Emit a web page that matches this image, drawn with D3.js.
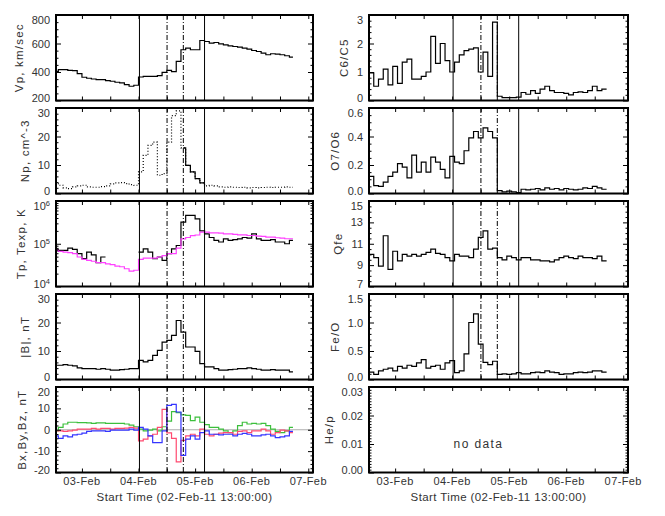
<!DOCTYPE html>
<html>
<head>
  <meta charset="utf-8">
  <title>ACE ICME summary</title>
  <script src="https://cdnjs.cloudflare.com/ajax/libs/d3/7.8.5/d3.min.js"></script>
  <style>
    body {
        margin: 0;
        background: #fff;
        font-family: "Liberation Sans", Arial, sans-serif;
    }
    svg { display: block; }
  </style>
</head>
<body>
<svg id="chart" width="665" height="516"></svg>
<script>
// ---------------------------------------------------------------
// Data (hours after 02-Feb-11 13:00:00)
var dayLabels = ["03-Feb", "04-Feb", "05-Feb", "06-Feb", "07-Feb"];
var dayHours = [11, 35, 59, 83, 107];
var halfDayHours = [11, 23, 35, 47, 59, 71, 83, 95, 107];
var eventSolid = [35.4, 63.0];
var eventDashDot = [47.1, 54.0];

// plasma / field: 2-hour bins starting at odd hours
var plasmaTimes = d3.range(51).map(function(i) { return Math.max(0, 2 * i - 1); });
var plasmaEnd = 100.5;
// ion composition: 2-hour bins starting at even hours
var ionTimes = d3.range(50).map(function(i) { return 2 * i; });
var ionEnd = 100;

var vp = [405,416,416,412,410,388,363,356,351,346,346,340,335,328,323,312,300,307,
          365,370,370,370,374,398,412,402,474,556,568,556,556,621,
          614,602,607,598,591,584,579,575,568,560,551,544,533,521,528,526,521,514,505];
var np = [3.8,2.9,2.0,1.7,2.3,2.7,2.9,2.3,2.2,2.2,2.4,2.7,3.4,3.7,3.8,3.5,3.1,2.9,
          7.6,13.4,16.9,18,6.4,7.0,18,27.3,29,16,9.9,7.6,5.2,3.7,
          2.7,2.9,2.7,2.3,2.2,2.3,2.2,2.1,2.2,2.0,2.1,2.0,2.1,2.2,2.1,2.2,2.2,2.3,2.2];
var tp = [7.4e4,7.0e4,7.0e4,7.9e4,7.4e4,5.9e4,4.5e4,6.4e4,5.5e4,3.6e4,4.9e4,
          null,null,null,null,null,null,null,
          6.4e4,7.6e4,6.4e4,4.5e4,4.9e4,4.1e4,5.9e4,7.6e4,9.1e4,3.2e5,4.6e5,4.6e5,3.8e5,2.0e5,
          1.7e5,1.4e5,1.2e5,1.1e5,1.3e5,1.2e5,1.25e5,1.3e5,1.4e5,1.35e5,1.7e5,1.3e5,1.2e5,
          1.2e5,1.25e5,1.1e5,1.1e5,1.0e5,1.2e5];
var texp = [7.0e4,6.6e4,6.4e4,6.2e4,5.9e4,4.9e4,4.3e4,4.1e4,3.9e4,3.6e4,3.6e4,3.4e4,
            3.25e4,3.0e4,2.9e4,2.6e4,2.3e4,2.4e4,
            4.3e4,4.6e4,4.6e4,4.6e4,4.9e4,5.3e4,5.9e4,5.9e4,7.9e4,1.3e5,1.4e5,1.55e5,1.6e5,1.87e5,
            1.87e5,1.8e5,1.8e5,1.77e5,1.71e5,1.71e5,1.65e5,1.62e5,1.62e5,1.56e5,1.56e5,1.51e5,
            1.48e5,1.43e5,1.43e5,1.38e5,1.36e5,1.31e5,1.31e5];
var bmag = [5.0,5.0,5.2,5.0,4.8,4.1,3.8,3.8,3.8,3.6,3.8,3.6,3.3,3.3,3.5,3.6,3.8,3.8,
            6.7,6.2,6.7,8.5,10.2,13.1,13.7,15.5,20.7,16.6,11.4,11.4,9.9,5.6,
            4.4,4.4,3.8,3.3,3.3,3.5,3.6,3.8,3.8,4.1,3.8,3.6,3.3,3.3,3.5,3.3,3.3,3.3,2.7];
var bx = [-0.5,-0.5,-0.8,-0.5,-0.2,0.3,0.3,0.3,0.6,0.3,0.6,0.6,0.3,0.6,0.6,0.8,1.1,0.8,
          -5.2,-4.4,-2.9,-2.1,1.1,9.5,-1.5,-4.0,-15,-5,-2.9,-2.1,-2.9,0.3,
          -2.1,-2.9,-2.1,-1.6,-1.3,-1.3,-2.1,-0.8,-0.5,-1.3,-0.5,-0.5,0.3,-0.5,-2.1,-1.3,-0.2,-0.5,-1.3];
var by = [-0.5,1.1,2.7,3.5,3.5,3.3,3.3,3.2,3.0,3.2,3.2,3.0,3.0,3.0,3.0,2.7,2.2,1.4,
          0.3,-0.5,-0.2,0.3,-0.5,1.4,4.0,8.5,8.0,7.0,6.7,4.3,5.9,3.5,
          2.4,1.1,1.1,0.3,-0.5,-1.3,-0.5,1.9,3.5,2.7,3.0,2.7,3.0,1.9,0.3,-0.8,-1.3,-0.5,1.1];
var bz = [-2.9,-4.0,-2.9,-3.3,-2.4,-2.1,-1.6,-0.8,-0.5,-0.5,-0.5,-0.8,-0.2,-0.2,-0.2,-0.2,0.3,-0.2,
          1.1,0.3,-2.9,-6.0,-6.0,-0.5,11.4,11.9,8.3,-12,-4.4,-2.9,-4.4,-1.3,
          -0.5,-2.1,-2.1,-2.4,-2.1,-2.1,-2.9,-2.1,-1.7,-2.1,-2.9,-2.9,-2.4,-2.1,-2.9,-3.7,-3.3,-2.9,-0.8];

var c6c5 = [0.97,0.5,0.75,1.1,0.55,1.2,0.6,1.35,1.45,0.75,0.75,0.85,1.0,2.25,1.3,2.0,1.4,1.0,1.35,1.6,
            1.75,1.8,1.85,1.0,1.7,0.85,2.75,0.15,0.1,0.1,0.1,0.12,0.28,0.22,0.35,0.25,0.4,0.5,0.35,0.28,
            0.28,0.25,0.2,0.28,0.3,0.28,0.35,0.5,0.35,0.4];
var o7o6 = [0.12,0.055,0.05,0.08,0.12,0.15,0.21,0.185,0.11,0.27,0.15,0.22,0.15,0.255,0.22,0.17,0.11,0.26,0.22,0.21,
            0.30,0.39,0.435,0.39,0.46,0.435,0.39,0.02,0.012,0.017,0.012,0.007,0.03,0.026,0.03,0.035,0.026,0.04,0.03,0.035,
            0.026,0.035,0.03,0.026,0.03,0.04,0.035,0.05,0.04,0.03];
var qfe = [10.0,9.7,8.9,11.75,8.6,10.3,9.4,10.0,9.85,10.0,9.85,10.0,10.2,10.5,10.1,10.0,9.7,9.4,10.0,9.85,
           9.85,9.7,10.5,11.6,12.2,10.5,10.6,9.7,9.5,9.85,9.7,9.5,9.7,9.7,9.5,9.5,9.4,9.4,9.3,9.5,
           9.7,9.85,9.7,9.6,9.85,9.7,9.7,9.6,9.85,9.4];
var feo = [0.13,0.09,0.15,0.18,0.2,0.15,0.23,0.2,0.25,0.23,0.29,0.35,0.2,0.23,0.25,0.18,0.29,0.33,0.12,0.15,
           0.45,1.0,1.15,0.62,0.3,0.26,0.32,0.09,0.1,0.09,0.1,0.12,0.1,0.1,0.12,0.13,0.12,0.15,0.13,0.12,
           0.09,0.1,0.1,0.12,0.13,0.12,0.13,0.15,0.15,0.13];

//----------------------------------------
// Panel setup
var svg = d3.select('#chart');
var xL = d3.scaleLinear().domain([0, 109]).range([56, 313]);
var xR = d3.scaleLinear().domain([0, 109]).range([369, 628]);
var textColor = '#333';

// plain ascii minus, like the original labels
function fmtFixed(n) {
    return function(d) { return d.toFixed(n); };
}

function minorTicks(d0, d1, step, majors) {
    return d3.range(d0, d1 + step / 2, step).filter(function(v) {
        return !majors.some(function(m) { return Math.abs(m - v) < step / 10; });
    });
}

var leftPanels = [
    { label: 'Vp, km/sec', domain: [200, 800], majors: [200, 400, 600, 800], minorStep: 50, fmt: fmtFixed(0),
      series: [{ t: plasmaTimes, v: vp, end: plasmaEnd, color: '#000' }] },
    { label: 'Np, cm^-3', domain: [0, 30], majors: [0, 10, 20, 30], minorStep: 2, fmt: fmtFixed(0),
      series: [{ t: plasmaTimes, v: np, end: plasmaEnd, color: '#000', dash: '1,2' },
               { t: plasmaTimes, v: np, end: plasmaEnd, color: '#000', clip: [54.0, 63.0] }] },
    { label: 'Tp, Texp, K', domain: [1e4, 1e6], log: true, majors: [1e4, 1e5, 1e6],
      series: [{ t: plasmaTimes, v: tp, end: plasmaEnd, color: '#000' },
               { t: plasmaTimes, v: texp, end: plasmaEnd, color: '#ff40ff' }] },
    { label: '|B|, nT', domain: [0, 30], majors: [0, 10, 20, 30], minorStep: 2, fmt: fmtFixed(0),
      series: [{ t: plasmaTimes, v: bmag, end: plasmaEnd, color: '#000' }] },
    { label: 'Bx,By,Bz, nT', domain: [-20, 20], majors: [-20, -10, 0, 10, 20], minorStep: 2, fmt: fmtFixed(0),
      zero: true,
      series: [{ t: plasmaTimes, v: by, end: plasmaEnd, color: '#3cbf3c' },
               { t: plasmaTimes, v: bx, end: plasmaEnd, color: '#ff4a70' },
               { t: plasmaTimes, v: bz, end: plasmaEnd, color: '#3535ff' }] }
];

var rightPanels = [
    { label: 'C6/C5', domain: [0, 3], majors: [0, 1, 2, 3], minorStep: 0.2, fmt: fmtFixed(0),
      series: [{ t: ionTimes, v: c6c5, end: ionEnd, color: '#000' }] },
    { label: 'O7/O6', domain: [0, 0.6], majors: [0, 0.2, 0.4, 0.6], minorStep: 0.05, fmt: fmtFixed(1),
      series: [{ t: ionTimes, v: o7o6, end: ionEnd, color: '#000' }] },
    { label: 'Qfe', domain: [7, 15], majors: [7, 9, 11, 13, 15], minorStep: 0.5, fmt: fmtFixed(0),
      series: [{ t: ionTimes, v: qfe, end: ionEnd, color: '#000' }] },
    { label: 'Fe/O', domain: [0, 1.5], majors: [0, 0.5, 1.0, 1.5], minorStep: 0.1, fmt: fmtFixed(1),
      series: [{ t: ionTimes, v: feo, end: ionEnd, color: '#000' }] },
    { label: 'He/p', domain: [0, 0.03], majors: [0, 0.01, 0.02, 0.03], minorStep: 0.001, fmt: fmtFixed(2),
      series: [], noData: true }
];

var defs = svg.append('defs');
var clipId = 0;

function drawPanel(cfg, col, row) {
    var x = col === 0 ? xL : xR;
    var x0 = x.range()[0], x1 = x.range()[1];
    var top = 15 + 93 * row, height = 85.5, bottom = top + height;
    var y = (cfg.log ? d3.scaleLog() : d3.scaleLinear()).domain(cfg.domain).range([bottom, top]);
    var g = svg.append('g');

    // zero line
    if (cfg.zero) {
        g.append('line')
            .attr('x1', x0).attr('x2', x1)
            .attr('y1', y(0)).attr('y2', y(0))
            .style('stroke', '#999').style('stroke-width', 0.8);
    }

    // data as step lines
    cfg.series.forEach(function(s) {
        var pts = [];
        s.t.forEach(function(t, i) {
            pts.push([t, s.v[i]]);
            var next = i + 1 < s.t.length ? s.t[i + 1] : s.end;
            if (s.v[i] != null && (i + 1 >= s.t.length || s.v[i + 1] == null)) {
                pts.push([next, s.v[i]]);
            }
        });
        var line = d3.line()
            .defined(function(d) { return d[1] != null; })
            .x(function(d) { return x(d[0]); })
            .y(function(d) { return y(d[1]); })
            .curve(d3.curveStepAfter);
        var path = g.append('path')
            .attr('d', line(pts))
            .style('fill', 'none')
            .style('stroke', s.color)
            .style('stroke-width', 1.2);
        if (s.dash) path.style('stroke-dasharray', s.dash);
        if (s.clip) {
            var id = 'clip' + (clipId++);
            defs.append('clipPath').attr('id', id).append('rect')
                .attr('x', x(s.clip[0])).attr('width', x(s.clip[1]) - x(s.clip[0]))
                .attr('y', top).attr('height', height);
            path.attr('clip-path', 'url(#' + id + ')');
        }
    });

    // event boundaries
    if (!cfg.noData) {
        eventSolid.forEach(function(h) {
            g.append('line').attr('x1', x(h)).attr('x2', x(h)).attr('y1', top).attr('y2', bottom)
                .style('stroke', '#000').style('stroke-width', 1);
        });
        eventDashDot.forEach(function(h) {
            g.append('line').attr('x1', x(h)).attr('x2', x(h)).attr('y1', top).attr('y2', bottom)
                .style('stroke', '#000').style('stroke-width', 1)
                .style('stroke-dasharray', '5,2,1,2');
        });
    } else {
        g.append('text')
            .attr('x', x(35.6)).attr('y', y(0.0087))
            .style('font-size', '12px').style('letter-spacing', '1.4px')
            .style('fill', textColor)
            .text('no data');
    }

    // x ticks (top and bottom, inward)
    [d3.axisBottom(x), d3.axisTop(x)].forEach(function(ax, k) {
        var a = g.append('g')
            .attr('transform', 'translate(0,' + (k === 0 ? bottom : top) + ')')
            .call(ax.tickValues(halfDayHours).tickSize(-4).tickFormat(''));
        a.select('.domain').remove();
        a.selectAll('line').style('stroke', '#000');
    });

    // y ticks
    var majors = cfg.majors;
    var minors = cfg.log
        ? [2,3,4,5,6,7,8,9].map(function(m) { return m * 1e4; })
              .concat([2,3,4,5,6,7,8,9].map(function(m) { return m * 1e5; }))
        : minorTicks(cfg.domain[0], cfg.domain[1], cfg.minorStep, majors);

    var yl = g.append('g').attr('transform', 'translate(' + x0 + ',0)')
        .call(d3.axisLeft(y).tickValues(majors).tickSize(-5).tickPadding(6)
              .tickFormat(cfg.log ? function() { return ''; } : cfg.fmt));
    yl.select('.domain').remove();
    yl.selectAll('line').style('stroke', '#000');
    yl.selectAll('text')
        .attr('font-size', null).attr('font-family', null)
        .style('font-size', '11px').style('fill', textColor)
        .attr('y', function(d) {
            var p = y(d);
            return Math.max(top + 4.5, Math.min(bottom - 3, p)) - p;
        });
    if (cfg.log) {
        yl.selectAll('text').each(function(d) {
            var t = d3.select(this);
            t.append('tspan').text('10');
            t.append('tspan').attr('dy', '-0.5em').style('font-size', '7.5px')
                .text(Math.round(Math.log10(d)));
        });
    }
    var ylm = g.append('g').attr('transform', 'translate(' + x0 + ',0)')
        .call(d3.axisLeft(y).tickValues(minors).tickSize(-2.5).tickFormat(''));
    var yr = g.append('g').attr('transform', 'translate(' + x1 + ',0)')
        .call(d3.axisRight(y).tickValues(majors).tickSize(-5).tickFormat(''));
    var yrm = g.append('g').attr('transform', 'translate(' + x1 + ',0)')
        .call(d3.axisRight(y).tickValues(minors).tickSize(-2.5).tickFormat(''));
    [ylm, yr, yrm].forEach(function(a) {
        a.select('.domain').remove();
        a.selectAll('line').style('stroke', '#000');
    });

    // y title, just left of the tick labels
    var minX = d3.min(yl.selectAll('text').nodes(), function(n) {
        return x0 + n.getBBox().x;
    });
    g.append('text')
        .attr('transform', 'translate(' + (minX - 8.5) + ',' + (top + height / 2) + ') rotate(-90)')
        .attr('text-anchor', 'middle')
        .style('font-size', '11.5px').style('letter-spacing', '1.2px')
        .style('fill', textColor)
        .text(cfg.label);

    // frame
    g.append('rect')
        .attr('x', x0).attr('y', top).attr('width', x1 - x0).attr('height', height)
        .style('fill', 'none').style('stroke', '#000').style('stroke-width', 2);

    // time labels on the bottom panel
    if (row === 4) {
        g.selectAll('.daylabel').data(dayHours).enter().append('text')
            .attr('x', function(d) { return x(d); })
            .attr('y', bottom + 12.5)
            .attr('text-anchor', 'middle')
            .style('font-size', '11px').style('letter-spacing', '0.4px')
            .style('fill', textColor)
            .text(function(d, i) { return dayLabels[i]; });
        g.append('text')
            .attr('x', (x0 + x1) / 2).attr('y', bottom + 28.5)
            .attr('text-anchor', 'middle')
            .style('font-size', '11.5px').style('letter-spacing', '0.4px')
            .style('fill', textColor)
            .text('Start Time (02-Feb-11 13:00:00)');
    }
}

leftPanels.forEach(function(p, i) { drawPanel(p, 0, i); });
rightPanels.forEach(function(p, i) { drawPanel(p, 1, i); });
</script>
</body>
</html>
